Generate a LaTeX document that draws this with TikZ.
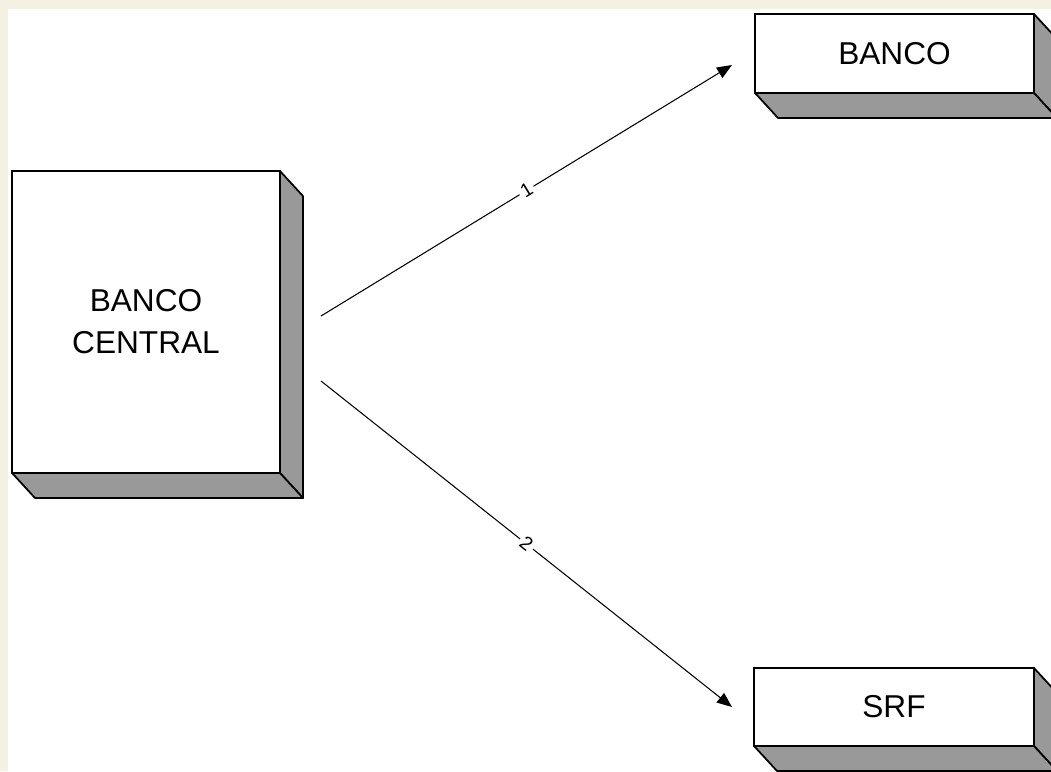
\documentclass[tikz,border=0pt]{standalone}
\usepackage{fontspec}
\setmainfont{Liberation Sans}
\usetikzlibrary{arrows.meta,calc}

\definecolor{fundo}{RGB}{244,240,226}
\definecolor{sombra}{RGB}{153,153,153}

\tikzset{
  caixa/.style={draw=black, fill=white, line width=1pt, inner sep=0pt, outer sep=0pt,
    align=center, font=\fontsize{18}{24}\selectfont},
  lado/.style={draw=black, fill=sombra, line width=1pt, line join=round},
  seta/.style={-{Triangle[length=0.3cm,width=0.24cm]}, line width=0.6pt},
  rotulo/.style={midway, sloped, fill=white, inner sep=1.5pt, font=\fontsize{11}{13}\selectfont}
}

\begin{document}
\begin{tikzpicture}[x=0.02cm,y=-0.02cm]
  \useasboundingbox (0,0) rectangle (1051,771);
  \fill[fundo] (0,0) rectangle (1051,771);
  \fill[white] (8,9) rectangle (1051,771);

  \node[caixa, minimum width=5.36cm, minimum height=6.04cm] (bc) at (146,322) {BANCO\\CENTRAL};
  \node[caixa, minimum width=5.58cm, minimum height=1.58cm] (banco) at (894.5,53.5) {BANCO};
  \node[caixa, minimum width=5.60cm, minimum height=1.56cm] (srf) at (894,707) {SRF};

  \foreach \n in {bc,banco,srf}{
    \draw[lado] (\n.north east) -- ($(\n.north east)+(23,25)$) -- ($(\n.south east)+(23,25)$) -- (\n.south east) -- cycle;
    \draw[lado] (\n.south west) -- ($(\n.south west)+(23,25)$) -- ($(\n.south east)+(23,25)$) -- (\n.south east) -- cycle;
  }

  \coordinate (s1) at (321,316);
  \coordinate (e1) at (732,65);
  \coordinate (s2) at (321,381);
  \coordinate (e2) at (732,707);

  \draw[seta] (s1) -- (e1) node[rotulo] {1};
  \draw[seta] (s2) -- (e2) node[rotulo] {2};
\end{tikzpicture}
\end{document}
